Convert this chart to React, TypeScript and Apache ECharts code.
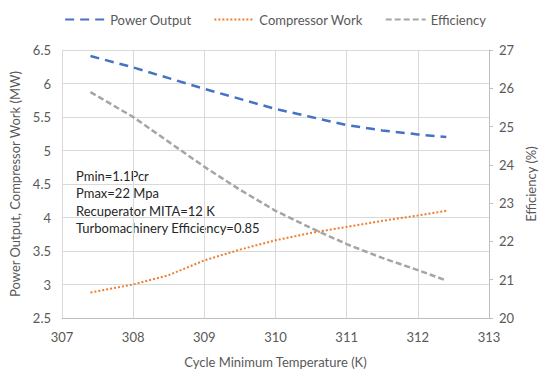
import React, { useEffect, useRef } from "react";
import * as echarts from "echarts";

const temperatures = [307.4, 308, 308.5, 309, 309.5, 310, 310.5, 311, 311.5, 312, 312.4];
const powerOutput = [6.41, 6.24, 6.08, 5.92, 5.77, 5.62, 5.5, 5.38, 5.3, 5.24, 5.2];
const compressorWork = [2.88, 3.0, 3.14, 3.36, 3.52, 3.66, 3.77, 3.86, 3.95, 4.03, 4.1];
const efficiency = [25.9, 25.25, 24.6, 23.95, 23.35, 22.8, 22.35, 21.93, 21.57, 21.25, 20.98];
const annotationLines = [
  "Pmin=1.1Pcr",
  "Pmax=22 Mpa",
  "Recuperator MITA=12 K",
  "Turbomachinery Efficiency=0.85",
];

const FONT = "Lato, 'Open Sans', sans-serif";
const TEXT = "#595959";

export default function App() {
  const ref = useRef<HTMLDivElement>(null);
  useEffect(() => {
    if (!ref.current) return;
    const chart = echarts.init(ref.current, undefined, { renderer: "svg" });
    const pair = (ys: number[]) => temperatures.map((t, i) => [t, ys[i]]);
    chart.setOption({
      animation: false,
      backgroundColor: "#ffffff",
      textStyle: { fontFamily: FONT },
      legend: {
        top: 8,
        left: "center",
        itemWidth: 40,
        itemHeight: 10,
        itemGap: 22,
        itemStyle: { opacity: 0 },
        textStyle: { color: TEXT, fontSize: 13, fontFamily: FONT },
        data: ["Power Output", "Compressor Work", "Efficiency"],
      },
      grid: { left: 62, right: 61, top: 50, bottom: 58, containLabel: false },
      xAxis: {
        type: "value",
        min: 307,
        max: 313,
        interval: 1,
        name: "Cycle Minimum Temperature (K)",
        nameLocation: "middle",
        nameGap: 37,
        nameTextStyle: { color: TEXT, fontSize: 13, fontFamily: FONT },
        axisLine: { show: true, lineStyle: { color: "#bfbfbf" } },
        axisTick: { show: false },
        axisLabel: { color: TEXT, fontSize: 13, margin: 12, fontFamily: FONT },
        splitLine: { show: true, lineStyle: { color: "#d9d9d9" } },
      },
      yAxis: [
        {
          type: "value",
          min: 2.5,
          max: 6.5,
          interval: 0.5,
          name: "Power Output, Compressor Work (MW)",
          nameLocation: "middle",
          nameGap: 30,
          nameTextStyle: { color: TEXT, fontSize: 13, fontFamily: FONT },
          axisLine: { show: false },
          axisTick: { show: false },
          axisLabel: { color: TEXT, fontSize: 13, margin: 11, fontFamily: FONT },
          splitLine: { show: true, lineStyle: { color: "#d9d9d9" } },
        },
        {
          type: "value",
          min: 20,
          max: 27,
          interval: 1,
          name: "Efficiency (%)",
          nameLocation: "middle",
          nameGap: 31,
          nameTextStyle: { color: TEXT, fontSize: 13, fontFamily: FONT },
          axisLine: { show: true, lineStyle: { color: "#bfbfbf" } },
          axisTick: { show: true, length: 4, lineStyle: { color: "#bfbfbf" } },
          axisLabel: { color: TEXT, fontSize: 13, margin: 10, fontFamily: FONT },
          splitLine: { show: false },
        },
      ],
      series: [
        {
          name: "Power Output",
          type: "line",
          yAxisIndex: 0,
          data: pair(powerOutput),
          symbol: "none",
          color: "#4472C4",
          lineStyle: { color: "#4472C4", width: 2.5, type: [9, 6] },
        },
        {
          name: "Compressor Work",
          type: "line",
          yAxisIndex: 0,
          data: pair(compressorWork),
          symbol: "none",
          color: "#ED7D31",
          lineStyle: { color: "#ED7D31", width: 2, type: [2, 2] },
        },
        {
          name: "Efficiency",
          type: "line",
          yAxisIndex: 1,
          data: pair(efficiency),
          symbol: "none",
          color: "#A5A5A5",
          lineStyle: { color: "#A5A5A5", width: 2.5, type: [6, 3] },
        },
      ],
      graphic: annotationLines.map((line, i) => ({
        type: "text",
        left: 76,
        top: 169 + i * 17.6,
        style: { text: line, fill: "#262626", fontSize: 13, fontFamily: FONT },
      })),
    });
    return () => chart.dispose();
  }, []);
  return <div ref={ref} style={{ width: 550, height: 376, position: "absolute", left: 0, top: 0 }} />;
}
